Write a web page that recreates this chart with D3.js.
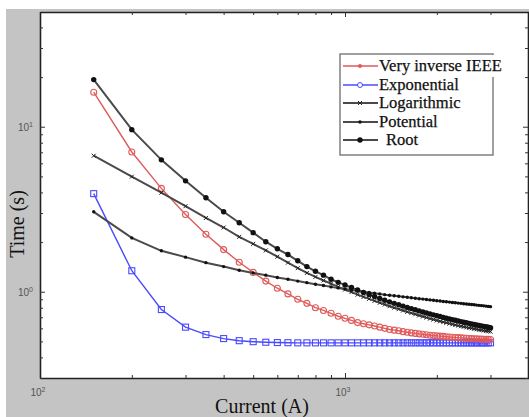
<!DOCTYPE html>
<html>
<head>
<meta charset="utf-8">
<script src="https://cdn.jsdelivr.net/npm/d3@7"></script>
<style>
  body { margin: 0; background: #fff; }
  svg { display: block; }
</style>
</head>
<body>
<div id="chart"></div>
<script>
// current values (A) on the x axis
var currents = [150, 200, 250, 300, 350, 400, 450, 500, 550, 600, 650, 700, 750, 800, 850, 900, 950,
  1000, 1050, 1100, 1150, 1200, 1250, 1300, 1350, 1400, 1450, 1500, 1550, 1600, 1650, 1700, 1750,
  1800, 1850, 1900, 1950, 2000, 2050, 2100, 2150, 2200, 2250, 2300, 2350, 2400, 2450, 2500, 2550,
  2600, 2650, 2700, 2750, 2800, 2850, 2900, 2950, 3000];

// operating times (s)
var veryInverse = [16.18, 7.03, 4.23, 2.94, 2.23, 1.80, 1.51, 1.31, 1.16, 1.05, 0.97, 0.90, 0.85, 0.80,
  0.77, 0.74, 0.71, 0.69, 0.67, 0.65, 0.64, 0.63, 0.62, 0.61, 0.60, 0.59, 0.585, 0.58, 0.573, 0.568,
  0.563, 0.559, 0.555, 0.552, 0.549, 0.545, 0.543, 0.540, 0.538, 0.536, 0.534, 0.532, 0.530, 0.528,
  0.527, 0.525, 0.524, 0.522, 0.521, 0.520, 0.519, 0.518, 0.517, 0.516, 0.515, 0.514, 0.514, 0.513];

var exponential = [3.93, 1.34, 0.78, 0.61, 0.55, 0.52, 0.505, 0.498, 0.494, 0.492, 0.491, 0.49, 0.49,
  0.49, 0.49, 0.49, 0.49, 0.49, 0.49, 0.49, 0.49, 0.49, 0.49, 0.49, 0.49, 0.49, 0.49, 0.49, 0.49,
  0.49, 0.49, 0.49, 0.49, 0.49, 0.49, 0.49, 0.49, 0.49, 0.49, 0.49, 0.49, 0.49, 0.49, 0.49, 0.49,
  0.49, 0.49, 0.49, 0.49, 0.49, 0.49, 0.49, 0.49, 0.49, 0.49, 0.49, 0.49, 0.49];

var logarithmic = [6.67, 4.98, 3.98, 3.3, 2.8, 2.45, 2.15, 1.95, 1.78, 1.63, 1.5, 1.39, 1.30, 1.23,
  1.17, 1.12, 1.07, 1.03, 0.995, 0.96, 0.93, 0.905, 0.88, 0.857, 0.836, 0.817, 0.8, 0.784, 0.769,
  0.755, 0.742, 0.73, 0.718, 0.707, 0.697, 0.687, 0.678, 0.67, 0.662, 0.655, 0.648, 0.641, 0.635,
  0.629, 0.623, 0.618, 0.613, 0.608, 0.604, 0.6, 0.596, 0.592, 0.588, 0.585, 0.582, 0.579, 0.576, 0.573];

var potential = [3.05, 2.12, 1.77, 1.62, 1.50, 1.42, 1.35, 1.30, 1.26, 1.22, 1.19, 1.16, 1.135, 1.11,
  1.09, 1.07, 1.055, 1.04, 1.025, 1.01, 1.0, 0.99, 0.98, 0.97, 0.96, 0.952, 0.945, 0.938, 0.931,
  0.925, 0.919, 0.913, 0.907, 0.902, 0.897, 0.892, 0.887, 0.882, 0.878, 0.873, 0.869, 0.865, 0.861,
  0.857, 0.853, 0.85, 0.846, 0.843, 0.839, 0.836, 0.833, 0.83, 0.827, 0.824, 0.821, 0.818, 0.815, 0.812];

var root = [19.3, 9.6, 6.3, 4.7, 3.71, 3.05, 2.62, 2.28, 2.01, 1.82, 1.68, 1.54, 1.42, 1.33, 1.26,
  1.19, 1.14, 1.10, 1.06, 1.025, 0.99, 0.96, 0.935, 0.91, 0.888, 0.868, 0.85, 0.833, 0.818, 0.803,
  0.79, 0.777, 0.765, 0.754, 0.743, 0.733, 0.724, 0.715, 0.707, 0.699, 0.691, 0.684, 0.677, 0.671,
  0.665, 0.659, 0.653, 0.648, 0.643, 0.638, 0.633, 0.629, 0.625, 0.621, 0.617, 0.613, 0.609, 0.605];

var seriesNames = ["Very inverse IEEE", "Exponential", "Logarithmic", "Potential", "Root"];

// tick positions
var xMajor = [100, 1000];
var xMinor = [200, 300, 400, 500, 600, 700, 800, 900, 2000, 3000];
var yMajor = [1, 10];
var yMinor = [0.3, 0.4, 0.5, 0.6, 0.7, 0.8, 0.9, 2, 3, 4, 5, 6, 7, 8, 9, 20, 30, 40];

var svgWidth = 529;
var svgHeight = 417;

var plot = { left: 40, right: 529, top: 12, bottom: 378 };

var svg = d3.select("#chart")
  .append("svg")
  .attr("width", svgWidth)
  .attr("height", svgHeight);

// grey figure background
svg.append("rect")
  .attr("x", 6).attr("y", 9)
  .attr("width", svgWidth - 6).attr("height", svgHeight - 9)
  .attr("fill", "#c4c4c4");

svg.append("rect")
  .attr("x", plot.left).attr("y", plot.top)
  .attr("width", plot.right - plot.left).attr("height", plot.bottom - plot.top)
  .attr("fill", "#fff");

var x = d3.scaleLog()
  .domain([100, 4000])
  .range([plot.left, plot.left + 305 * Math.log10(40)]);

var y = d3.scaleLog()
  .domain([0.3, 50])
  .range([plot.bottom, plot.bottom - 165 * Math.log10(50 / 0.3)]);

// axes, ticks inside like matlab
function tickLen(v, majors) { return majors.indexOf(v) >= 0 ? 5 : 3; }

var xTicks = xMajor.concat(xMinor);
var yTicks = yMajor.concat(yMinor);

var bottomAxis = d3.axisBottom(x).tickValues(xTicks).tickFormat("").tickSizeOuter(0);
var topAxis = d3.axisTop(x).tickValues(xTicks).tickFormat("").tickSizeOuter(0);
var leftAxis = d3.axisLeft(y).tickValues(yTicks).tickFormat("").tickSizeOuter(0);
var rightAxis = d3.axisRight(y).tickValues(yTicks).tickFormat("").tickSizeOuter(0);

var gB = svg.append("g").attr("transform", "translate(0," + plot.bottom + ")").call(bottomAxis);
var gT = svg.append("g").attr("transform", "translate(0," + plot.top + ")").call(topAxis);
var gL = svg.append("g").attr("transform", "translate(" + plot.left + ",0)").call(leftAxis);
var gR = svg.append("g").attr("transform", "translate(" + (plot.right - 1) + ",0)").call(rightAxis);

gB.selectAll(".tick line").attr("y2", d => -tickLen(d, xMajor));
gT.selectAll(".tick line").attr("y2", d => tickLen(d, xMajor));
gL.selectAll(".tick line").attr("x2", d => tickLen(d, yMajor));
gR.selectAll(".tick line").attr("x2", d => -tickLen(d, yMajor));

[gB, gT, gL, gR].forEach(function(g) {
  g.select(".domain").attr("stroke", "#222").attr("stroke-width", 1.6);
  g.selectAll(".tick line").attr("stroke", "#333").attr("stroke-width", 1);
});

// tick labels 10^n
function powLabel(g, px, py, anchor, exp) {
  var t = g.append("text")
    .attr("x", px).attr("y", py)
    .attr("text-anchor", anchor)
    .attr("font-family", "Liberation Sans, Arial, sans-serif")
    .attr("font-size", 10)
    .attr("fill", "#555");
  t.append("tspan").text("10");
  t.append("tspan").attr("dy", -4).attr("font-size", 7).text(exp);
}

var labels = svg.append("g");
yMajor.forEach(function(v) {
  powLabel(labels, 33, y(v) + 4, "end", Math.round(Math.log10(v)));
});
xMajor.forEach(function(v) {
  powLabel(labels, x(v) - 2, 396, "middle", Math.round(Math.log10(v)));
});

// axis titles
svg.append("text")
  .attr("transform", "translate(24,224) rotate(-90)")
  .attr("text-anchor", "middle")
  .attr("font-family", "Liberation Serif, Times New Roman, serif")
  .attr("font-size", 20)
  .attr("fill", "#111")
  .text("Time (s)");

svg.append("text")
  .attr("x", 262).attr("y", 413)
  .attr("text-anchor", "middle")
  .attr("font-family", "Liberation Serif, Times New Roman, serif")
  .attr("font-size", 20)
  .attr("fill", "#111")
  .text("Current (A)");

// series
var styles = [
  { values: veryInverse, color: "#e05a5a", width: 1.4, marker: "circle" },
  { values: exponential, color: "#4a4aff", width: 1.4, marker: "square" },
  { values: logarithmic, color: "#4a4a4a", width: 2, marker: "x" },
  { values: potential, color: "#4a4a4a", width: 2, marker: "dot" },
  { values: root, color: "#4a4a4a", width: 2, marker: "bigdot" }
];

var line = d3.line()
  .x(d => x(d[0]))
  .y(d => y(d[1]));

function drawMarker(g, kind, color, cx, cy) {
  if (kind === "circle") {
    g.append("circle").attr("cx", cx).attr("cy", cy).attr("r", 3)
      .attr("fill", "none").attr("stroke", color).attr("stroke-width", 1.1);
  } else if (kind === "square") {
    g.append("rect").attr("x", cx - 3).attr("y", cy - 3).attr("width", 6).attr("height", 6)
      .attr("fill", "none").attr("stroke", color).attr("stroke-width", 1.1);
  } else if (kind === "x") {
    g.append("path")
      .attr("d", "M" + (cx - 2) + "," + (cy - 2) + "L" + (cx + 2) + "," + (cy + 2) +
        "M" + (cx - 2) + "," + (cy + 2) + "L" + (cx + 2) + "," + (cy - 2))
      .attr("stroke", "#222").attr("stroke-width", 1);
  } else if (kind === "dot") {
    g.append("circle").attr("cx", cx).attr("cy", cy).attr("r", 1.7).attr("fill", "#111");
  } else {
    g.append("circle").attr("cx", cx).attr("cy", cy).attr("r", 2.7).attr("fill", "#111");
  }
}

var seriesGroup = svg.append("g");
[1, 0, 2, 3, 4].forEach(function(i) {
  var s = styles[i];
  var pts = currents.map((c, j) => [c, s.values[j]]);
  var g = seriesGroup.append("g");
  g.append("path")
    .datum(pts)
    .attr("d", line)
    .attr("fill", "none")
    .attr("stroke", s.color)
    .attr("stroke-width", s.width);
  pts.forEach(function(p) {
    drawMarker(g, s.marker, s.color, x(p[0]), y(p[1]));
  });
});

// legend
var legend = svg.append("g");
legend.append("rect")
  .attr("x", 340).attr("y", 54)
  .attr("width", 153).attr("height", 101)
  .attr("fill", "#fff")
  .attr("stroke", "#777")
  .attr("stroke-width", 1.4);
// the first label runs over the right border
legend.append("rect")
  .attr("x", 485).attr("y", 55).attr("width", 22).attr("height", 22)
  .attr("fill", "#fff");

var rowY = [66, 85, 103, 122, 140];
seriesNames.forEach(function(name, i) {
  var s = styles[i];
  legend.append("line")
    .attr("x1", 343).attr("x2", 378)
    .attr("y1", rowY[i]).attr("y2", rowY[i])
    .attr("stroke", s.color).attr("stroke-width", s.width);
  if (i === 0) {
    legend.append("circle").attr("cx", 360).attr("cy", rowY[i]).attr("r", 2)
      .attr("fill", s.color);
  } else if (i === 1) {
    legend.append("circle").attr("cx", 360).attr("cy", rowY[i]).attr("r", 2.5)
      .attr("fill", "#fff").attr("stroke", s.color);
  } else {
    drawMarker(legend, s.marker, s.color, 360, rowY[i]);
  }
  legend.append("text")
    .attr("x", i === 4 ? 386 : 379)
    .attr("y", rowY[i] + 5)
    .attr("font-family", "Liberation Serif, Times New Roman, serif")
    .attr("font-size", 16.5)
    .attr("fill", "#111")
    .attr("stroke", "#111")
    .attr("stroke-width", 0.25)
    .text(name);
});
</script>
</body>
</html>
